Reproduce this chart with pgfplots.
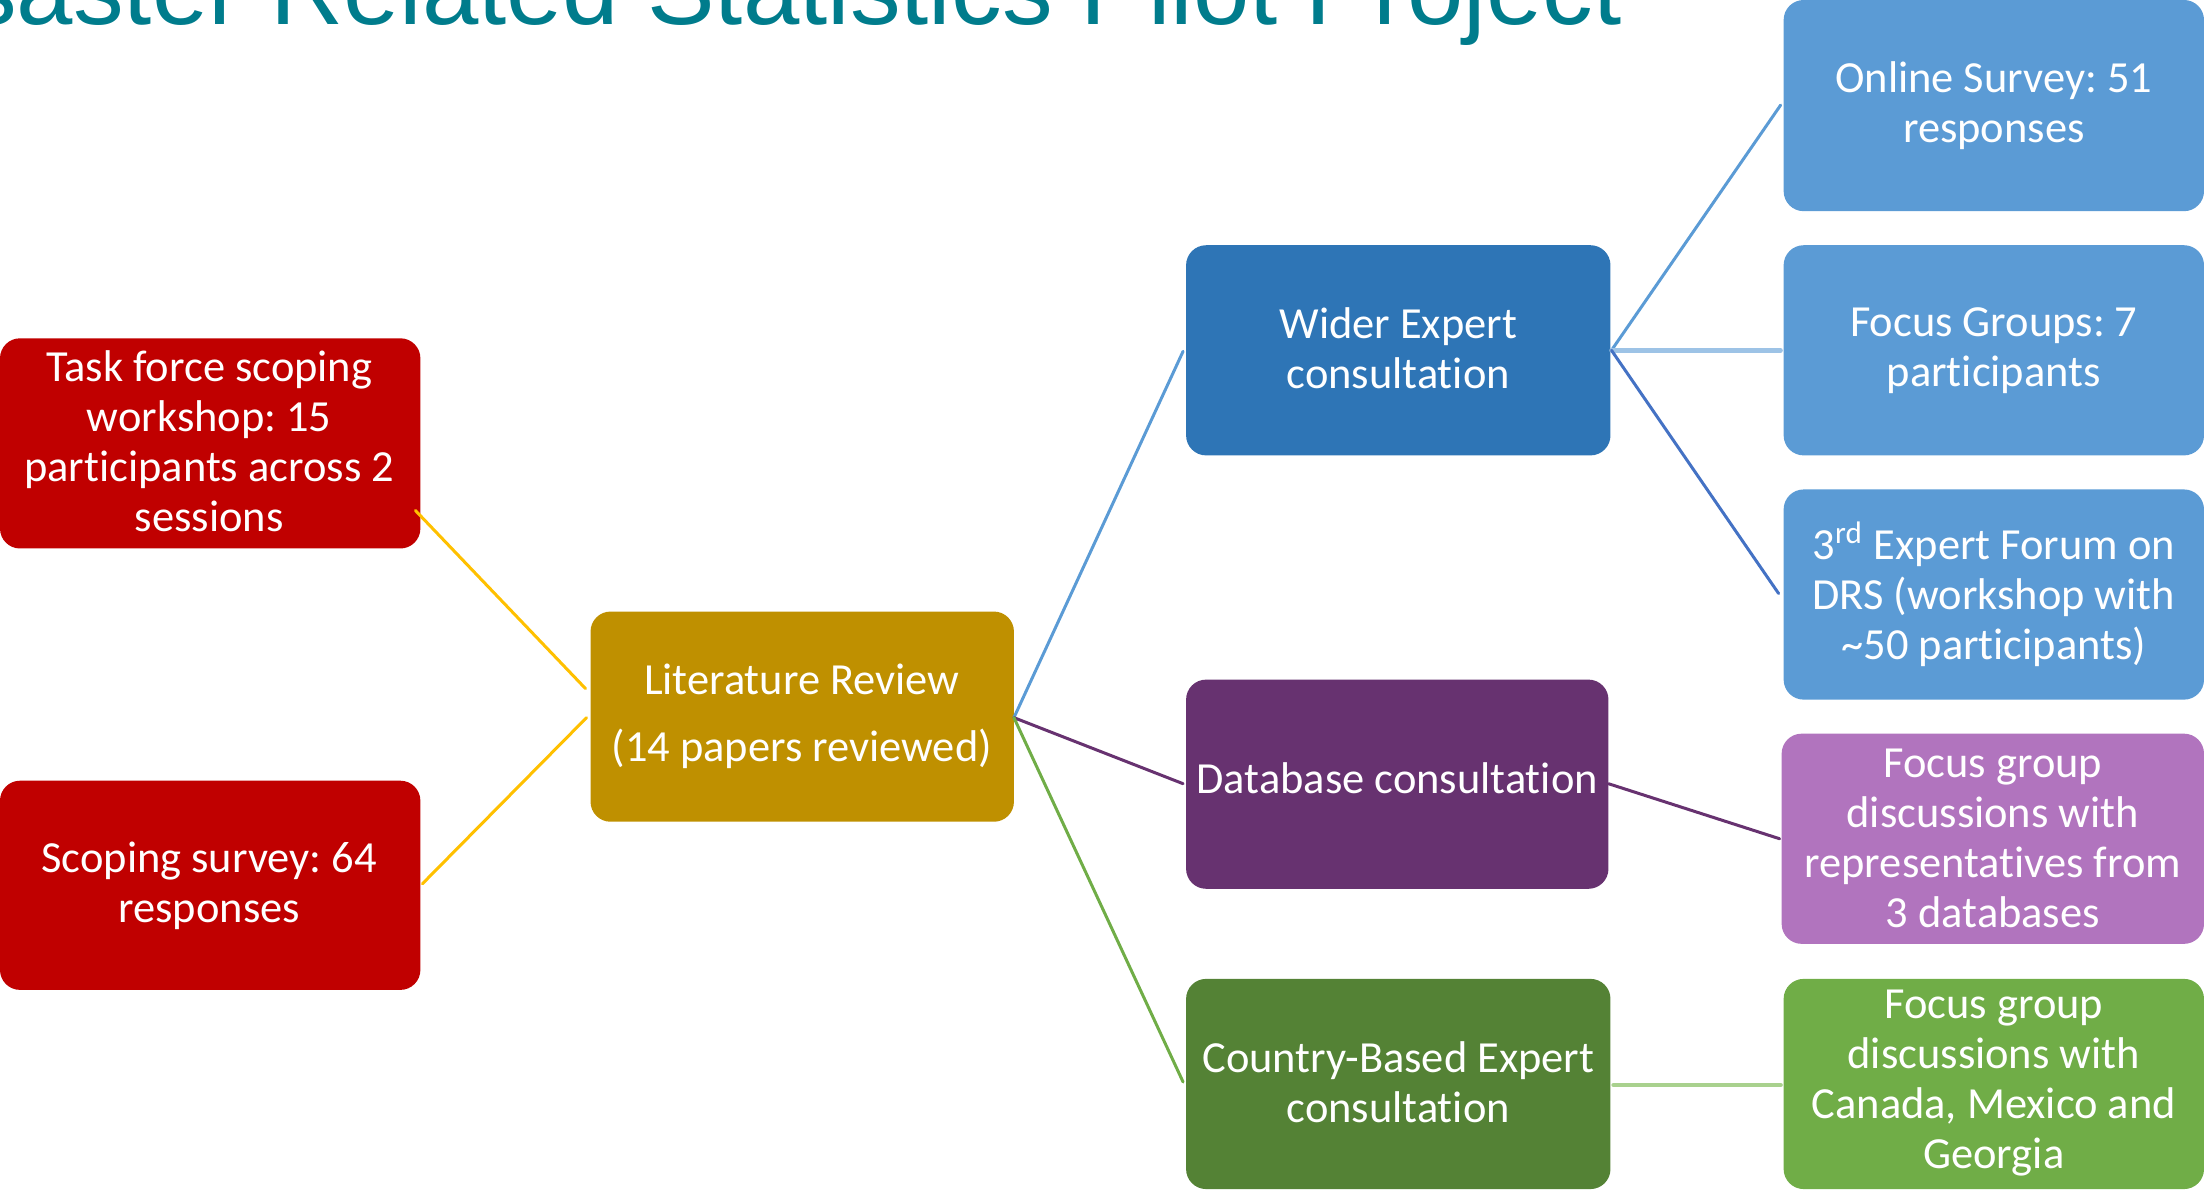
\documentclass[border=0pt]{standalone}
\usepackage{pgfplots}
\pgfplotsset{compat=1.18}
\usepackage{fontspec}
\setmainfont{Carlito}[RawFeature={-liga;-clig;-calt;-dlig}]
\newfontfamily\titlefont{Liberation Sans}
\frenchspacing
\definecolor{titleteal}{RGB}{0,124,140}
\definecolor{redbox}{RGB}{192,0,0}
\definecolor{goldbox}{RGB}{191,144,0}
\definecolor{widerblue}{RGB}{46,117,182}
\definecolor{lightblue}{RGB}{91,155,213}
\definecolor{purplebox}{RGB}{103,50,112}
\definecolor{lightpurple}{RGB}{177,116,190}
\definecolor{darkgreen}{RGB}{84,130,53}
\definecolor{lightgreen}{RGB}{112,173,71}
\definecolor{goldline}{RGB}{255,192,0}
\definecolor{paleblue}{RGB}{157,195,230}
\definecolor{midblue}{RGB}{68,114,196}
\definecolor{palegreen}{RGB}{169,209,142}
\newcommand{\boxfont}{\fontsize{11.1bp}{12.5bp}\selectfont}
\begin{document}
\begin{tikzpicture}
\begin{axis}[scale only axis,
  width=551bp, height=297bp,
  xmin=0, xmax=2204, ymin=-1188, ymax=0,
  hide axis, clip=false, no markers,
  every axis plot/.append style={line join=round, line cap=round}]
% boxes
\addplot[fill=redbox, draw=none, rounded corners=5bp] coordinates {(210,-338) (420,-338) (420,-548) (0,-548) (0,-338)} -- cycle;
\addplot[fill=redbox, draw=none, rounded corners=5bp] coordinates {(210,-780) (420,-780) (420,-989) (0,-989) (0,-780)} -- cycle;
\addplot[fill=goldbox, draw=none, rounded corners=5bp] coordinates {(801,-611) (1013,-611) (1013,-821) (590,-821) (590,-611)} -- cycle;
\addplot[fill=widerblue, draw=none, rounded corners=5bp] coordinates {(1397,-245) (1609,-245) (1609,-455) (1185,-455) (1185,-245)} -- cycle;
\addplot[fill=purplebox, draw=none, rounded corners=5bp] coordinates {(1396,-679) (1607,-679) (1607,-888) (1185,-888) (1185,-679)} -- cycle;
\addplot[fill=darkgreen, draw=none, rounded corners=5bp] coordinates {(1397,-978) (1609,-978) (1609,-1188) (1185,-1188) (1185,-978)} -- cycle;
\addplot[fill=lightblue, draw=none, rounded corners=5bp] coordinates {(1992,0) (2202,0) (2202,-211) (1782,-211) (1782,0)} -- cycle;
\addplot[fill=lightblue, draw=none, rounded corners=5bp] coordinates {(1992,-245) (2202,-245) (2202,-455) (1782,-455) (1782,-245)} -- cycle;
\addplot[fill=lightblue, draw=none, rounded corners=5bp] coordinates {(1992,-489) (2202,-489) (2202,-699) (1782,-699) (1782,-489)} -- cycle;
\addplot[fill=lightpurple, draw=none, rounded corners=5bp] coordinates {(1992,-733) (2202,-733) (2202,-943) (1780,-943) (1780,-733)} -- cycle;
\addplot[fill=lightgreen, draw=none, rounded corners=5bp] coordinates {(1992,-978) (2202,-978) (2202,-1188) (1782,-1188) (1782,-978)} -- cycle;
% connectors
\addplot[goldline, line width=0.75bp] coordinates {(415,-510) (585,-688)};
\addplot[goldline, line width=0.75bp] coordinates {(422,-883) (586,-717)};
\addplot[lightblue, line width=0.75bp] coordinates {(1013,-717) (1182,-351)};
\addplot[purplebox, line width=0.75bp] coordinates {(1013,-717) (1182,-783)};
\addplot[lightgreen, line width=0.75bp] coordinates {(1013,-717) (1182,-1081)};
\addplot[lightblue, line width=0.75bp] coordinates {(1610,-350) (1779,-105)};
\addplot[paleblue, line width=1.1bp] coordinates {(1610,-350) (1779,-350)};
\addplot[midblue, line width=0.75bp] coordinates {(1610,-350) (1777,-593)};
\addplot[purplebox, line width=0.75bp] coordinates {(1607,-783) (1778,-838)};
\addplot[palegreen, line width=1.1bp] coordinates {(1612,-1084) (1779,-1084)};
% title (overlay: the part outside the page is cut off)
\node[overlay, anchor=base west, inner sep=0pt, text=titleteal, font=\titlefont\fontsize{25.3bp}{30bp}\selectfont] at (axis cs:-130,-24) {Disaster Related Statistics Pilot Project};
% texts
\begin{scope}[every node/.style={align=center, text=white, inner sep=0pt, font=\boxfont}]
\node at (axis cs:209,-441) {Task force scoping\\workshop: 15\\participants across 2\\sessions};
\node at (axis cs:209,-885) {Scoping survey: 64\\responses};
\node[font=\fontsize{11.1bp}{16.75bp}\selectfont] at (axis cs:801,-716) {Literature Review\\(14 papers reviewed)};
\node at (axis cs:1397,-348) {Wider Expert\\consultation};
\node at (axis cs:1396,-778) {Database consultation};
\node at (axis cs:1397,-1081) {Country-Based Expert\\consultation};
\node at (axis cs:1992,-106) {Online Survey: 51\\responses};
\node at (axis cs:1992,-350) {Focus Groups: 7\\participants};
\node at (axis cs:1992,-594) {3\textsuperscript{rd} Expert Forum on\\DRS (workshop with\\\textasciitilde 50 participants)};
\node at (axis cs:1991,-838) {Focus group\\discussions with\\representatives from\\3 databases};
\node at (axis cs:1992,-1082) {Focus group\\discussions with\\Canada, Mexico and\\Georgia};
\end{scope}
\end{axis}
\end{tikzpicture}
\end{document}
